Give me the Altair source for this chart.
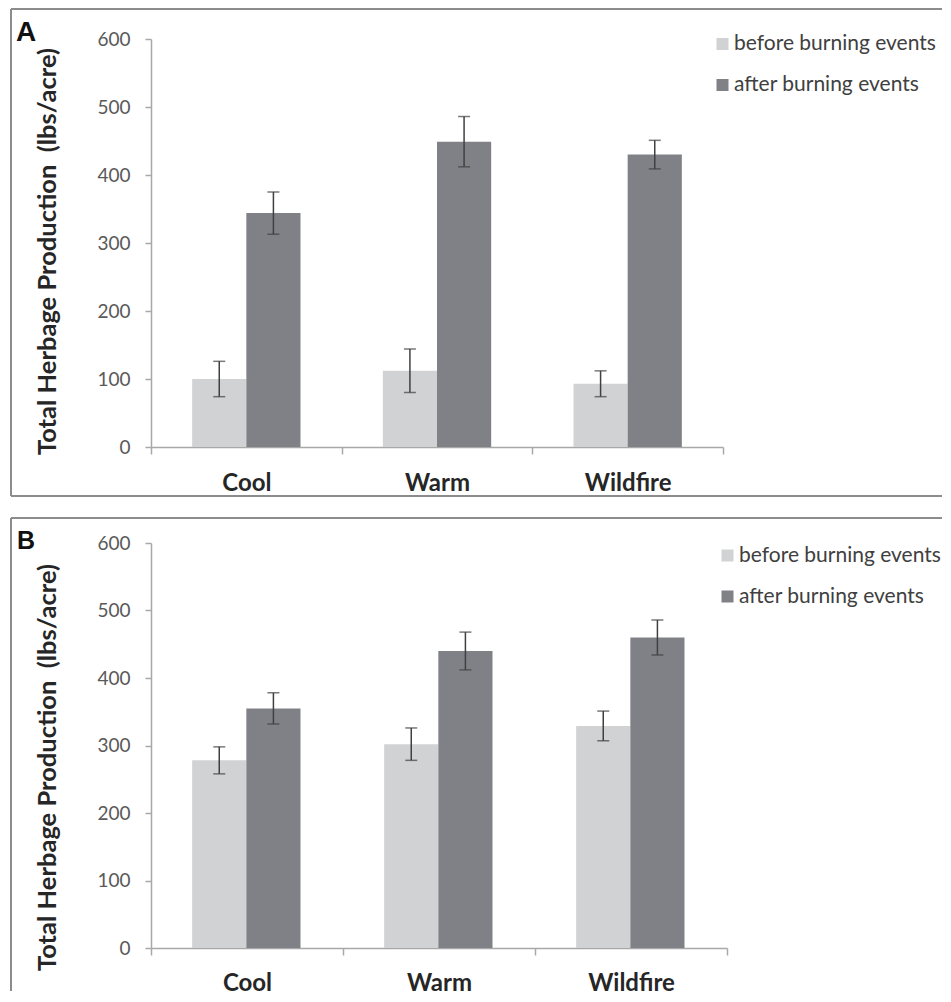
import altair as alt
import pandas as pd

categories = ["Cool", "Warm", "Wildfire"]
series = ["before burning events", "after burning events"]
y_ticks = [0, 100, 200, 300, 400, 500, 600]

# Panel A
a_before = [100, 112, 93]
a_before_err = [26, 32, 19]
a_after = [344, 449, 430]
a_after_err = [31, 37, 21]

# Panel B
b_before = [278, 302, 329]
b_before_err = [20, 24, 22]
b_after = [355, 440, 460]
b_after_err = [23, 28, 26]

colors = ["#d1d2d4", "#808186"]
AXIS_GREY = "#a8a8a8"
BORDER = "#8c8c8c"


def build_df(before, before_err, after, after_err):
    rows = []
    for i, c in enumerate(categories):
        rows.append({"category": c, "series": series[0], "value": before[i],
                     "lo": before[i] - before_err[i], "hi": before[i] + before_err[i]})
        rows.append({"category": c, "series": series[1], "value": after[i],
                     "lo": after[i] - after_err[i], "hi": after[i] + after_err[i]})
    return pd.DataFrame(rows)


def panel(df, letter, w, h, g):
    xenc = alt.X("category:N", sort=categories,
                 scale=alt.Scale(paddingInner=0, paddingOuter=0),
                 axis=alt.Axis(title=None, labelFont="Lato", labelFontSize=24,
                               labelFontWeight="bold", labelColor="#262626",
                               labelPadding=g["xlabPad"], labelAngle=0, tickSize=7,
                               tickBand="extent", tickColor=AXIS_GREY, tickWidth=1.5,
                               domainColor=AXIS_GREY, domainWidth=1.5))
    xoff = alt.XOffset("series:N", sort=series,
                       scale=alt.Scale(paddingInner=0, paddingOuter=0.76))
    yscale = alt.Scale(domain=[0, 600], nice=False)
    yaxis = alt.Axis(values=y_ticks, grid=False, domainColor=AXIS_GREY, domainWidth=1.5,
                     tickColor=AXIS_GREY, tickWidth=1.5, tickSize=6,
                     labelFont="Lato", labelFontSize=19, labelColor="#595959",
                     labelPadding=15,
                     title="Total Herbage Production\u00a0 (lbs/acre)",
                     titleFont="Lato", titleFontSize=25.5, titleFontWeight="bold",
                     titleColor="#262626", titleAngle=270, titleAlign="center",
                     titleBaseline="bottom", titleX=g["titleX"], titleY=g["titleY"])

    bars = alt.Chart(df).mark_bar().encode(
        x=xenc, xOffset=xoff,
        y=alt.Y("value:Q", scale=yscale, axis=yaxis),
        color=alt.Color("series:N", sort=series,
                        scale=alt.Scale(domain=series, range=colors),
                        legend=alt.Legend(orient="none", legendX=g["legX"], legendY=g["legY"],
                                          title=None, symbolType="square", symbolSize=144,
                                          symbolStrokeWidth=0, labelFont="Lato",
                                          labelFontSize=21, labelColor="#404040",
                                          rowPadding=19, labelOffset=1, padding=0,
                                          labelLimit=400)),
    )
    err_rule = alt.Chart(df).mark_rule(color="#404040", strokeWidth=1.5).encode(
        x=alt.X("category:N", sort=categories), xOffset=alt.XOffset("series:N", sort=series),
        y=alt.Y("lo:Q", scale=yscale), y2="hi:Q")
    cap_lo = alt.Chart(df).mark_tick(color="#404040", size=12, thickness=1.5).encode(
        x=alt.X("category:N", sort=categories), xOffset=alt.XOffset("series:N", sort=series),
        y=alt.Y("lo:Q", scale=yscale))
    cap_hi = alt.Chart(df).mark_tick(color="#404040", size=12, thickness=1.5).encode(
        x=alt.X("category:N", sort=categories), xOffset=alt.XOffset("series:N", sort=series),
        y=alt.Y("hi:Q", scale=yscale))

    one = pd.DataFrame({"t": [letter]})
    label = alt.Chart(one).mark_text(font="Liberation Sans", fontSize=g["letterSize"],
                                     fontWeight="bold", align="left", baseline="alphabetic",
                                     color="#111111").encode(
        x=alt.value(g["letterX"]), y=alt.value(g["letterY"]), text="t:N")

    layers = [bars, err_rule, cap_lo, cap_hi, label]
    b = g["box"]
    top = alt.Chart(one).mark_rule(color=BORDER, strokeWidth=2).encode(
        x=alt.value(b[0]), x2=alt.value(b[1]), y=alt.value(b[2]))
    left = alt.Chart(one).mark_rule(color=BORDER, strokeWidth=2).encode(
        x=alt.value(b[0]), y=alt.value(b[2]), y2=alt.value(b[3]))
    layers += [top, left]
    if g.get("bottom", False):
        bottom = alt.Chart(one).mark_rule(color=BORDER, strokeWidth=2).encode(
            x=alt.value(b[0]), x2=alt.value(b[1]), y=alt.value(b[3]))
        layers.append(bottom)
    return alt.layer(*layers).properties(width=w, height=h)


geoA = dict(titleX=-91, titleY=212, legX=561, legY=-5.5, letterSize=28, xlabPad=17,
            letterX=-135, letterY=2, box=(-140, 791, -30, 457), bottom=True)
geoB = dict(titleX=-91, titleY=224, legX=566, legY=2, letterSize=25, xlabPad=16,
            letterX=-134, letterY=6, box=(-140, 791, -25, 448), bottom=False)

chartA = panel(build_df(a_before, a_before_err, a_after, a_after_err), "A", 572, 408, geoA)
chartB = panel(build_df(b_before, b_before_err, b_after, b_after_err), "B", 576, 405, geoB)

chart = alt.ConcatChart(concat=[chartA, chartB], columns=1, spacing=20).resolve_legend(
    color="independent"
).properties(
    padding={"left": 2, "top": 0, "right": 0, "bottom": -1}
).configure_view(stroke=None).configure_legend(padding=0)

chart.save("out.html", embed_options={"renderer": "svg", "actions": False})
